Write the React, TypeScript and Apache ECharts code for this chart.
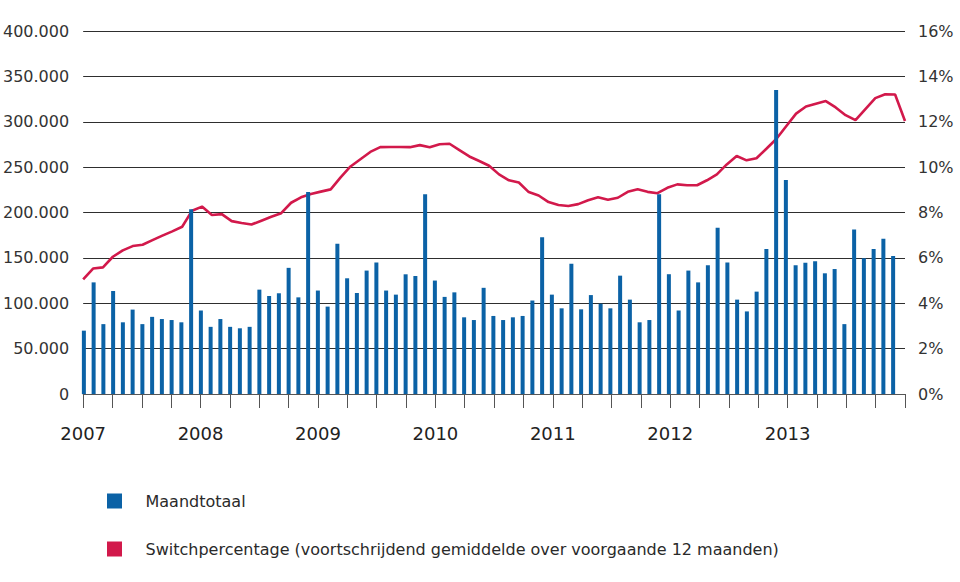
import React, { useEffect, useRef } from "react";
import * as echarts from "echarts";

const years = [2007, 2008, 2009, 2010, 2011, 2012, 2013];
const monthNames = ["jan", "feb", "mrt", "apr", "mei", "jun", "jul", "aug", "sep", "okt", "nov", "dec"];
const months: string[] = [];
years.forEach((y) => monthNames.forEach((m) => months.push(m + " " + y)));

const yearLabels = ["2007", "2008", "2009", "2010", "2011", "2012", "2013"];

const maandtotaal = [
  69800, 123000, 77000, 113500, 79000, 93000, 77000, 85000, 82600, 81500, 79000, 203500,
  92000, 74000, 82600, 74000, 72400, 74000, 115000, 108000, 111000, 139000, 106500, 222600,
  114000, 96300, 165700, 127500, 111300, 136000, 145000, 114000, 109500, 131900, 130000, 220000,
  125000, 107000, 112000, 84500, 81500, 117000, 86000, 81500, 84500, 86000, 103000, 172600,
  109500, 94400, 143600, 93300, 109000, 99500, 94400, 130400, 104000, 79000, 81500, 220000,
  132000, 92000, 136000, 123000, 141800, 183300, 145000, 104000, 91000, 112800, 159800, 335000,
  235800, 141800, 144700, 146200, 133000, 137700, 77000, 181400, 149500, 159800, 171000, 152000,
];

const switchpercentage = [
  5.05, 5.53, 5.58, 6.05, 6.33, 6.52, 6.58, 6.78, 6.98, 7.17, 7.37, 8.08,
  8.26, 7.89, 7.93, 7.62, 7.54, 7.47, 7.64, 7.81, 7.97, 8.43, 8.67, 8.82,
  8.92, 9.02, 9.55, 10.03, 10.35, 10.67, 10.88, 10.89, 10.89, 10.88, 10.97, 10.88,
  11.01, 11.03, 10.75, 10.47, 10.27, 10.06, 9.68, 9.42, 9.32, 8.9, 8.75, 8.46,
  8.33, 8.29, 8.37, 8.54, 8.67, 8.56, 8.65, 8.91, 9.02, 8.91, 8.85, 9.09,
  9.24, 9.2, 9.2, 9.42, 9.68, 10.12, 10.49, 10.3, 10.39, 10.81, 11.24, 11.8,
  12.36, 12.67, 12.79, 12.91, 12.63, 12.29, 12.07, 12.56, 13.04, 13.21, 13.2, 12.03,
];

const seriesNames = [
  "Maandtotaal",
  "Switchpercentage (voortschrijdend gemiddelde over voorgaande 12 maanden)",
];

const FONT = "DejaVu Sans";
const BLUE = "#0b62a6";
const RED = "#d2194b";

function fmtThousands(v: number): string {
  return String(v).replace(/\B(?=(\d{3})+(?!\d))/g, ".");
}

export default function App() {
  const ref = useRef<HTMLDivElement>(null);
  useEffect(() => {
    if (!ref.current) return;
    const chart = echarts.init(ref.current, undefined, { renderer: "svg" });
    chart.setOption({
      animation: false,
      backgroundColor: "#ffffff",
      textStyle: { fontFamily: FONT },
      grid: [
        { left: 80, right: 55, top: 31, bottom: 188 },
        { left: 79, right: 62, top: 31, bottom: 188 },
      ],
      legend: {
        orient: "vertical",
        left: 107,
        top: 493,
        padding: 0,
        itemWidth: 15,
        itemHeight: 15,
        itemGap: 32,
        icon: "rect",
        data: seriesNames,
        textStyle: { fontFamily: FONT, fontSize: 16, color: "#2a2a2a", padding: [0, 0, 0, 18.5] },
      },
      xAxis: [
        {
          type: "value",
          gridIndex: 0,
          min: 0,
          max: 84,
          interval: 3,
          axisLine: { show: true, lineStyle: { color: "#555555", width: 1 } },
          axisTick: { show: true, length: 14, lineStyle: { color: "#555555", width: 1 } },
          splitLine: { show: false },
          axisLabel: {
            margin: 30,
            fontFamily: FONT,
            fontSize: 18,
            color: "#222222",
            showMaxLabel: true,
            formatter: (v: number) => {
              const k = Math.round(v);
              return k % 12 === 0 && k / 12 < yearLabels.length ? yearLabels[k / 12] : "";
            },
          },
        },
        {
          type: "category",
          gridIndex: 0,
          boundaryGap: false,
          data: months,
          show: false,
        },
        {
          type: "category",
          gridIndex: 1,
          data: months,
          show: false,
        },
      ],
      yAxis: [
        {
          type: "value",
          gridIndex: 0,
          position: "left",
          min: 0,
          max: 400000,
          interval: 50000,
          axisLine: { show: false },
          axisTick: { show: false },
          splitLine: { show: true, lineStyle: { color: "#2e2e2e", width: 1.2 } },
          axisLabel: {
            margin: 14,
            fontFamily: FONT,
            fontSize: 16,
            color: "#333333",
            formatter: (v: number) => fmtThousands(v),
          },
        },
        {
          type: "value",
          gridIndex: 0,
          position: "right",
          min: 0,
          max: 16,
          interval: 2,
          axisLine: { show: false },
          axisTick: { show: false },
          splitLine: { show: false },
          axisLabel: {
            margin: 13,
            fontFamily: FONT,
            fontSize: 16,
            color: "#333333",
            formatter: "{value}%",
          },
        },
        {
          type: "value",
          gridIndex: 1,
          min: 0,
          max: 400000,
          show: false,
          splitLine: { show: false },
        },
      ],
      series: [
        {
          name: seriesNames[0],
          type: "bar",
          xAxisIndex: 2,
          yAxisIndex: 2,
          data: maandtotaal,
          barWidth: 4,
          itemStyle: { color: BLUE },
          z: 4,
        },
        {
          name: seriesNames[1],
          type: "line",
          xAxisIndex: 1,
          yAxisIndex: 1,
          data: switchpercentage,
          symbol: "none",
          lineStyle: { color: RED, width: 2.6 },
          itemStyle: { color: RED },
          z: 3,
        },
      ],
    });
    return () => chart.dispose();
  }, []);
  return (
    <div
      ref={ref}
      style={{ position: "fixed", left: 0, top: 0, width: 960, height: 582, background: "#fff" }}
    />
  );
}
